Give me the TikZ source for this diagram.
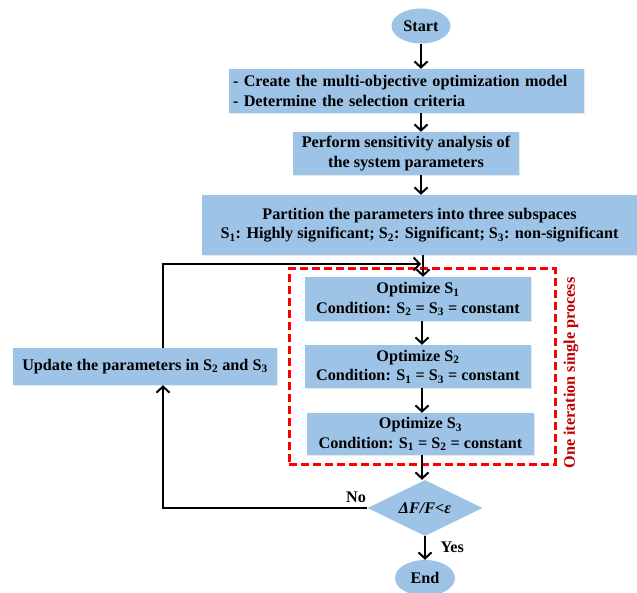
\documentclass[tikz,border=0pt]{standalone}
\usepackage{fontspec}
\setmainfont{Liberation Serif}
\usetikzlibrary{arrows.meta,shapes.geometric,shadows}
\definecolor{boxblue}{RGB}{157,195,230}
\definecolor{darkred}{RGB}{192,0,0}
\newcommand{\subs}[1]{\textsubscript{#1}}
\begin{document}
\begin{tikzpicture}[x=1pt,y=-1pt,
  every node/.style={font=\bfseries\fontsize{16.2}{19.5}\selectfont},
  procbox/.style={fill=boxblue, draw=none, align=center, inner sep=1pt,
    drop shadow={opacity=0.18, shadow xshift=1.2pt, shadow yshift=-1.2pt}},
  term/.style={ellipse, fill=boxblue, draw=none, inner sep=0pt},
  arr/.style={-{Straight Barb[length=6pt,width=13pt,line width=2pt]}, line width=2.2pt, black},
  lbl/.style={font=\bfseries\fontsize{16.2}{19.5}\selectfont}
]
\useasboundingbox (0,0) rectangle (637,593);

\node[term, minimum width=59pt, minimum height=35pt] (start) at (421,26) {Start};
\node[procbox, minimum width=355pt, minimum height=44pt, align=left, text width=347pt] (b1) at (406.5,91)
  {- Create the multi-objective optimization model\\- Determine the selection criteria};
\node[procbox, minimum width=226pt, minimum height=43pt] (b2) at (406,153.5)
  {Perform sensitivity analysis of\\the system parameters};
\node[procbox, minimum width=435pt, minimum height=60pt] (b3) at (419.5,225)
  {Partition the parameters into three subspaces\\S\subs{1}: Highly significant; S\subs{2}: Significant; S\subs{3}: non-significant};
\node[procbox, minimum width=226pt, minimum height=44pt] (o1) at (418,299)
  {Optimize S\subs{1}\\Condition: S\subs{2} = S\subs{3} = constant};
\node[procbox, minimum width=226pt, minimum height=43pt] (o2) at (418,366.5)
  {Optimize S\subs{2}\\Condition: S\subs{1} = S\subs{3} = constant};
\node[procbox, minimum width=227pt, minimum height=42pt] (o3) at (420.5,434)
  {Optimize S\subs{3}\\Condition: S\subs{1} = S\subs{2} = constant};
\node[diamond, fill=boxblue, draw=none, minimum width=115pt, minimum height=56pt, inner sep=0pt, aspect=2] (dec) at (425,508)
  {\itshape ΔF/F<ε};
\node[term, minimum width=60pt, minimum height=36pt] (end) at (425,578) {End};
\node[procbox, minimum width=264pt, minimum height=37pt] (upd) at (145,366.5)
  {Update the parameters in S\subs{2} and S\subs{3}};

% red dashed frame
\node[draw=red, dash pattern=on 8pt off 4pt, line width=3pt, minimum width=266pt, minimum height=195pt, inner sep=0pt] (frame) at (422,366.5) {};
\node[lbl, text=darkred, rotate=90] (frlabel) at (571,373) {One iteration single process};

\coordinate (join) at (421,264);

\draw[arr] (start.south) -- (start.south |- b1.north);
\draw[arr] ([xshift=14.5pt]b1.south) -- ([xshift=14.5pt]b1.south |- b2.north);
\draw[arr] ([xshift=15pt]b2.south) -- ([xshift=15pt]b2.south |- b3.north);
\draw[arr] ([xshift=3.5pt]b3.south) -- ([xshift=3.5pt]b3.south |- o1.north);
\draw[arr] ([xshift=4pt]o1.south) -- ([xshift=4pt]o1.south |- o2.north);
\draw[arr] ([xshift=4pt]o2.south) -- ([xshift=4pt]o2.south |- o3.north);
\draw[arr] ([xshift=1.5pt]o3.south) -- ([xshift=1.5pt]o3.south |- dec.north);
\draw[arr] (dec.south) -- (end.north);
\draw[arr] (dec.west) -| ([xshift=18pt]upd.south);
\draw[arr] ([xshift=18pt]upd.north) |- (join);

\node[lbl, anchor=south] (no) at (356,506) {No};
\node[lbl, anchor=west] (yes) at (437,547) {Yes};
\end{tikzpicture}
\end{document}
